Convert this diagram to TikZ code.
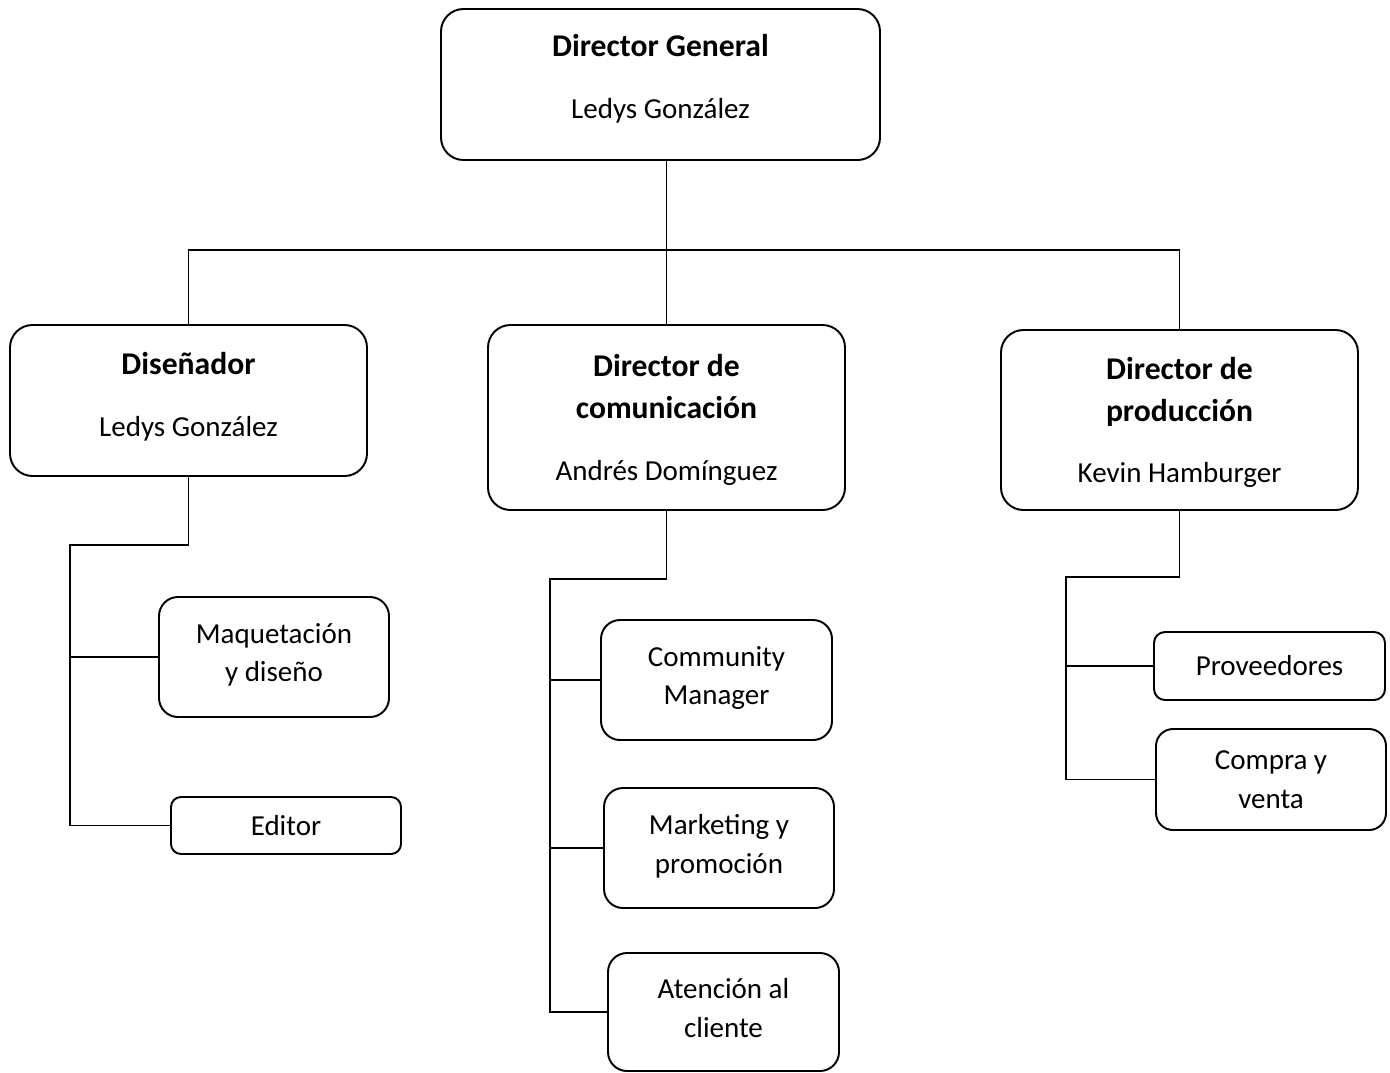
\documentclass[tikz,border=0pt]{standalone}
\usepackage{fontspec}
\setmainfont{Carlito}
\usetikzlibrary{positioning}
\newcommand{\boxtitle}[1]{{\fontsize{18}{23}\selectfont\bfseries #1}}

\begin{document}
\begin{tikzpicture}
[node distance=2cm,on grid,
  every node/.style={font=\fontsize{16.5}{22}\selectfont},
  headbox/.style={draw,line width=1.1pt,rounded corners=0.45cm,align=center,
    minimum width=7.14cm,inner sep=0pt},
  unitbox/.style={draw,line width=1.1pt,rounded corners=0.38cm,align=center,
    minimum width=4.6cm,minimum height=2.4cm,inner sep=0pt},
  link/.style={line width=0.6pt}]
\useasboundingbox (0,0) rectangle (27.8,-21.44);
%% nodes or boxes
\node[headbox,minimum width=8.78cm,minimum height=3.02cm,text depth=9pt] (gen) at (13.21,-1.69)
  {\boxtitle{Director General}\\[13pt]Ledys González};
\node[headbox,minimum height=3.02cm,text depth=7pt] (dis) [below left=6.32cm and 9.44cm of gen]
  {\boxtitle{Diseñador}\\[13pt]Ledys González};
\node[headbox,minimum height=3.7cm,text depth=0pt] (com) [below right=6.66cm and 0.12cm of gen]
  {\boxtitle{Director de}\\[2pt]\boxtitle{comunicación}\\[13pt]Andrés Domínguez};
\node[headbox,minimum height=3.6cm,text depth=0pt] (pro) [below right=6.71cm and 10.38cm of gen]
  {\boxtitle{Director de}\\[2pt]\boxtitle{producción}\\[13pt]Kevin Hamburger};
\node[unitbox,text depth=5pt] (maq) [below right=5.13cm and 1.71cm of dis] {Maquetación\\y diseño};
\node[unitbox,minimum height=1.14cm,rounded corners=0.2cm] (edi)
  [below right=3.37cm and 0.24cm of maq] {Editor};
\node[unitbox,minimum width=4.62cm,text depth=5pt] (cmm) [below right=5.25cm and 1cm of com]
  {Community\\Manager};
\node[unitbox,text depth=5pt] (mkt) [below right=3.36cm and 0.05cm of cmm] {Marketing y\\promoción};
\node[unitbox,minimum width=4.62cm,minimum height=2.36cm,text depth=5pt] (ate)
  [below right=3.28cm and 0.09cm of mkt] {Atención al\\cliente};
\node[unitbox,minimum width=4.62cm,minimum height=1.36cm,rounded corners=0.22cm] (prv)
  [below right=4.92cm and 1.8cm of pro] {Proveedores};
\node[unitbox,minimum height=2.02cm,rounded corners=0.34cm] (cyv)
  [below right=2.27cm and 0.03cm of prv] {Compra y\\venta};
%% bus points
\coordinate (topbus) at (13.3,-5);
\coordinate (disbus) at (1.4,-10.9);
\coordinate (combus) at (11,-11.58);
\coordinate (probus) at (21.32,-11.54);
%% connectors
\draw[link] (com.north) -- (com.north |- gen.south);
\draw[link] (dis.north) |- (topbus) -| (pro.north);
\draw[link] (dis.south) |- (disbus) |- (edi.west);
\draw[link] (disbus |- maq.west) -- (maq.west);
\draw[link] (com.south) |- (combus) |- (ate.west);
\draw[link] (combus |- cmm.west) -- (cmm.west);
\draw[link] (combus |- mkt.west) -- (mkt.west);
\draw[link] (pro.south) |- (probus) |- (cyv.west);
\draw[link] (probus |- prv.west) -- (prv.west);
\end{tikzpicture}
\end{document}
